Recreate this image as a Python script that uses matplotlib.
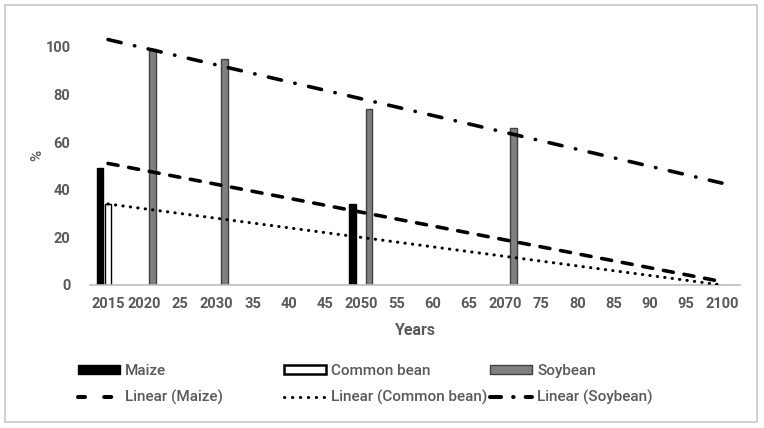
import numpy as np
import matplotlib
matplotlib.use("Agg")
import matplotlib.pyplot as plt
from matplotlib.patches import Rectangle
from matplotlib.lines import Line2D

categories = ["2015", "2020", "25", "2030", "35", "40", "45", "2050", "55", "60",
              "65", "2070", "75", "80", "85", "90", "95", "2100"]
nan = np.nan
maize = [49, nan, nan, nan, nan, nan, nan, 34, nan, nan, nan, nan, nan, nan, nan, nan, nan, 0]
common_bean = [34, nan, nan, nan, nan, nan, nan, nan, nan, nan, nan, nan, nan, nan, nan, nan, nan, 0]
soybean = [nan, 99, nan, 95, nan, nan, nan, 74, nan, nan, nan, 66, nan, nan, nan, nan, nan, nan]

plt.rcParams['font.family'] = ['Roboto', 'DejaVu Sans']
fig = plt.figure(figsize=(7.64, 4.28), dpi=100)
W, H = 764, 428
ax = fig.add_axes([90 / W, 1 - 285 / H, 650 / W, 255 / H])

x = np.arange(1, len(categories) + 1)
bw = 0.18
off = 0.23
tc = '#595959'

def bars(vals, dx, fc, ec):
    v = np.array(vals, dtype=float)
    m = ~np.isnan(v)
    ax.bar(x[m] + dx, v[m], width=bw, color=fc, edgecolor=ec, linewidth=1.0, zorder=2)

bars(maize, -off, 'black', 'black')
bars(common_bean, 0.0, 'white', 'black')
bars(soybean, off, '#808080', '#404040')

def trend(vals, **kw):
    v = np.array(vals, dtype=float)
    m = ~np.isnan(v)
    k, b = np.polyfit(x[m], v[m], 1)
    xs = np.array([1, len(categories)])
    ax.plot(xs, k * xs + b, color='black', zorder=3, clip_on=True,
            dash_capstyle='round', solid_capstyle='round', **kw)

lw = 2.6
trend(maize, lw=lw, linestyle=(0, (2.8, 3.0)))
trend(common_bean, lw=2.2, linestyle=(0, (0.1, 2.35)))
trend(soybean, lw=lw, linestyle=(0, (3.7, 3.8, 0.1, 3.8)))

ax.set_xlim(0.5, len(categories) + 0.5)
ax.set_ylim(0, 107)
ax.set_yticks([0, 20, 40, 60, 80, 100])
ax.set_xticks(x)
ax.set_xticklabels(categories)
for s in ['top', 'right', 'left']:
    ax.spines[s].set_visible(False)
ax.spines['bottom'].set_color('#bfbfbf')
ax.spines['bottom'].set_linewidth(1.2)
ax.tick_params(axis='both', length=0, labelsize=10.5, colors=tc, pad=9)
ax.tick_params(axis='y', pad=14)
for lab in ax.get_xticklabels() + ax.get_yticklabels():
    lab.set_fontweight('bold')
ax.set_xlabel('Years', fontsize=11.5, fontweight='bold', color=tc, labelpad=8)
fig.text(37 / W, 1 - 155 / H, '%', rotation=90, fontsize=11, color=tc,
         ha='center', va='center', fontweight='medium')

# legends
leg_kw = dict(frameon=False, fontsize=11, handlelength=2.75, handleheight=0.6,
              handletextpad=0.33, labelspacing=0.8, labelcolor=tc, borderpad=0,
              borderaxespad=0)
h_maize = Rectangle((0, 0), 1, 1, fc='black', ec='black')
h_bean = Rectangle((0, 0), 1, 1, fc='white', ec='black', lw=1.8)
h_soy = Rectangle((0, 0), 1, 1, fc='#808080', ec='#404040')
l_maize = Line2D([], [], color='black', lw=2.9, linestyle=(0, (1.75, 4.75)), dash_capstyle='round')
l_bean = Line2D([], [], color='black', lw=2.2, linestyle=(0, (0.1, 2.5)), dash_capstyle='round')
l_soy = Line2D([], [], color='black', lw=2.9, linestyle=(0, (2.75, 3.0, 0.1, 3.0)), dash_capstyle='round')

for (hs, labs, xp) in [([h_maize, l_maize], ['Maize', 'Linear (Maize)'], 78),
                       ([h_bean, l_bean], ['Common bean', 'Linear (Common bean)'], 284),
                       ([h_soy, l_soy], ['Soybean', 'Linear (Soybean)'], 490)]:
    lg = fig.legend(hs, labs, loc='upper left', bbox_to_anchor=(xp / W, 1 - 364 / H), **leg_kw)
    for t in lg.get_texts():
        t.set_fontweight('medium')

fig.patches.append(Rectangle((5 / W, 1 - 422 / H), 752 / W, 417 / H, transform=fig.transFigure,
                             fill=False, ec='#c8c8c8', lw=1.2))
fig.savefig('out.png', dpi=100)
